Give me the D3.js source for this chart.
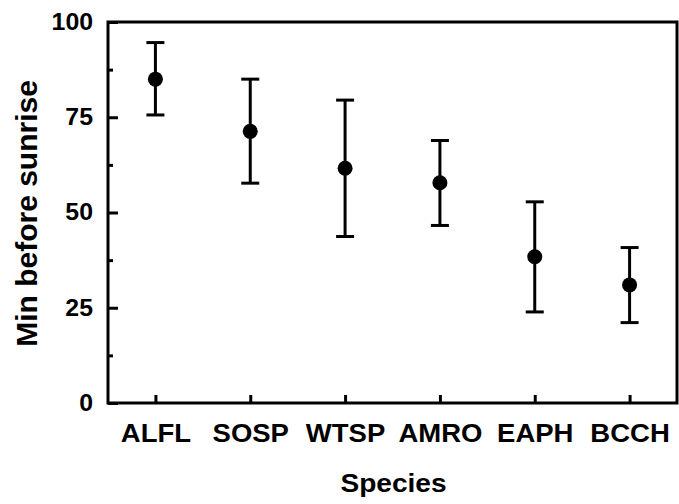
<!DOCTYPE html>
<html><head><meta charset="utf-8">
<script src="https://cdn.jsdelivr.net/npm/d3@7"></script>
<style>body{margin:0;background:#fff}svg{display:block}text{font-family:"Liberation Sans",Arial,sans-serif;font-weight:bold;fill:#000}</style>
</head><body><svg id="c" width="679" height="504"></svg>
<script>
const species = ["ALFL","SOSP","WTSP","AMRO","EAPH","BCCH"];
const means = [85.0, 71.3, 61.6, 57.8, 38.4, 31.0];
const upper = [94.6, 85.0, 79.5, 68.9, 52.8, 40.8];
const lower = [75.6, 57.7, 43.7, 46.6, 23.9, 21.1];
const yTicks = [0, 25, 50, 75, 100];
const yMinor = [12.5, 37.5, 62.5, 87.5];

const svg = d3.select("#c");
const L = 108, R = 677, T = 22, B = 403;
const x = d3.scalePoint().domain(species).range([L, R]).padding(0.5);
const y = d3.scaleLinear().domain([0, 100]).range([B, T]);
const sw = 3;
const FF = "Liberation Sans, Arial, sans-serif";

function stretch(sel, k) {
  sel.each(function () {
    const w = this.getComputedTextLength();
    d3.select(this).attr("textLength", w * k).attr("lengthAdjust", "spacingAndGlyphs");
  });
}

// frame
svg.append("rect").attr("x", L).attr("y", T).attr("width", R - L).attr("height", B - T)
  .attr("fill", "none").attr("stroke", "#000").attr("stroke-width", sw);

// y axis
const ya = svg.append("g").attr("transform", `translate(${L},0)`)
  .call(d3.axisLeft(y).tickValues(yTicks).tickSize(-10).tickPadding(15).tickFormat(d3.format("d")));
ya.select(".domain").remove();
ya.selectAll("line").attr("stroke-width", sw);
ya.selectAll("text").attr("font-size", 23).style("font-family", FF).style("font-weight", "bold").call(stretch, 1.08);
const ym = svg.append("g").attr("transform", `translate(${L},0)`)
  .call(d3.axisLeft(y).tickValues(yMinor).tickSize(-5).tickFormat(""));
ym.select(".domain").remove();
ym.selectAll("line").attr("stroke-width", sw);

// x axis
const xa = svg.append("g").attr("transform", `translate(0,${B})`)
  .call(d3.axisBottom(x).tickSize(-8).tickPadding(21));
xa.select(".domain").remove();
xa.selectAll("line").attr("stroke-width", sw);
xa.selectAll("text").attr("font-size", 25).style("font-family", FF).style("font-weight", "bold").call(stretch, 1.1);

// error bars
const g = svg.append("g");
species.forEach((s, i) => {
  const cx = x(s);
  g.append("line").attr("x1", cx).attr("x2", cx).attr("y1", y(upper[i])).attr("y2", y(lower[i]))
    .attr("stroke", "#000").attr("stroke-width", sw);
  [upper[i], lower[i]].forEach(v => {
    g.append("line").attr("x1", cx - 9).attr("x2", cx + 9).attr("y1", y(v)).attr("y2", y(v))
      .attr("stroke", "#000").attr("stroke-width", sw);
  });
  g.append("circle").attr("cx", cx).attr("cy", y(means[i])).attr("r", 7.5).attr("fill", "#000");
});

// titles
svg.append("text").attr("x", (L + R) / 2 + 1).attr("y", 492).attr("text-anchor", "middle")
  .attr("font-size", 26).text("Species").call(stretch, 1.08);
svg.append("text").attr("transform", `translate(37,${(T + B) / 2 + 1}) rotate(-90)`)
  .attr("text-anchor", "middle").attr("font-size", 30).text("Min before sunrise");
</script></body></html>
